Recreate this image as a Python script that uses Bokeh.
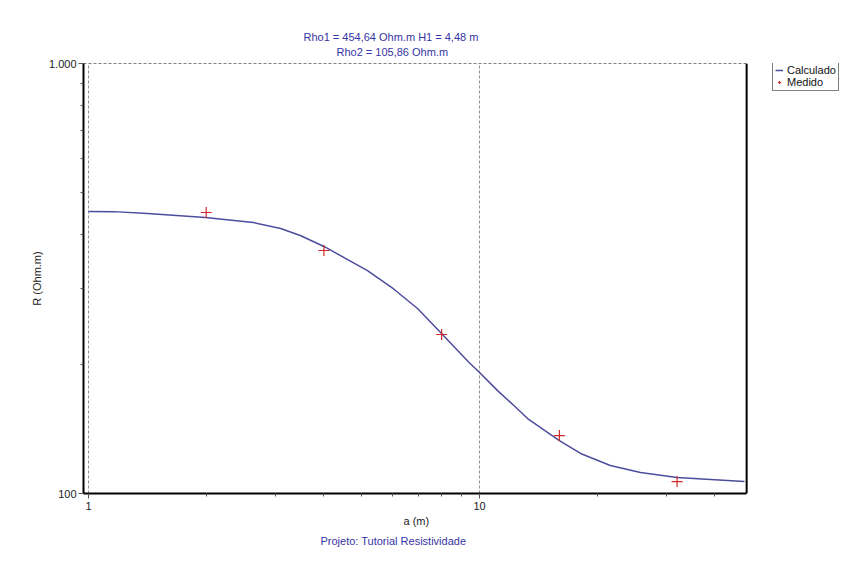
from bokeh.plotting import figure
from bokeh.models import (Title, Legend, LegendItem, FixedTicker, Span, Range1d)
from bokeh.embed import file_html
from bokeh.resources import INLINE

# ---- data ----
a_calc = [1.0, 1.158, 1.416, 1.99, 2.64, 3.10, 3.48, 4.0, 5.17, 6.03, 6.94, 7.95, 8.94,
          9.39, 10.0, 11.12, 12.24, 13.27, 16.0, 18.13, 21.6, 25.8, 32.0, 38.98, 47.6]
r_calc = [452.6, 452.4, 448.0, 438.5, 426.8, 413.3, 398.0, 375.4, 330.0, 299.0, 269.3,
          236.8, 211.6, 202.0, 191.1, 173.5, 160.2, 149.4, 132.8, 123.9, 116.2, 111.9,
          109.0, 107.8, 106.6]
a_med = [2, 4, 8, 16, 32]
r_med = [450.3, 367.4, 234.3, 136.4, 106.6]

x_major = [1, 10]
x_minor = [2, 3, 4, 5, 6, 7, 8, 9, 20, 30, 40]
y_major = [100, 1000]
y_minor = [200, 300, 400, 500, 600, 700, 800, 900]

title1 = "Rho1 =  454,64 Ohm.m H1 =  4,48 m"
title2 = "Rho2 =  105,86 Ohm.m"
x_label = "a (m)"
y_label = "R (Ohm.m)"
footer = "Projeto: Tutorial Resistividade"

# axis window (the frame is widened to the right to host the legend)
X_START, X_END = 0.971, 48.2
X_FRAME_END = 91.5

FONT = "Liberation Sans"
BLUE_TXT = "#3535a5"
CURVE = "#4d4d9e"
RED = "#d02828"

p = figure(x_axis_type="log", y_axis_type="log",
           x_range=Range1d(X_START, X_FRAME_END), y_range=Range1d(100, 1000),
           frame_width=772, frame_height=430,
           min_border_left=83, min_border_top=63, min_border_right=6, min_border_bottom=69,
           output_backend="svg", toolbar_location=None,
           background_fill_color="white", border_fill_color="white")
p.outline_line_color = None
p.title = None


def mk_title(text, offset, standoff, color=BLUE_TXT, size="11px"):
    return Title(text=text, align="left", offset=offset, standoff=standoff,
                 text_font=FONT, text_font_size=size, text_font_style="normal",
                 text_color=color, text_line_height=1.0)


# above: closest first (a thin spacer keeps the subtitle off the frame)
p.add_layout(mk_title(" ", 0, 2, size="1px"), "above")
p.add_layout(mk_title(title2, 253, 2), "above")
p.add_layout(mk_title(title1, 220, 0), "above")
# below: x-axis label (placed as title so it can be centred on the axis window), then footer
p.add_layout(mk_title(x_label, 320, 0, "#222222"), "below")
p.add_layout(mk_title(footer, 237, 12), "below")

# axes
for ax in (p.xaxis[0], p.yaxis[0]):
    ax.axis_line_color = "black"
    ax.axis_line_width = 2
    ax.major_tick_line_color = "#555555"
    ax.minor_tick_line_color = "#555555"
    ax.major_tick_out = 5
    ax.major_tick_in = 0
    ax.minor_tick_out = 3
    ax.minor_tick_in = 0
    ax.major_label_text_font = FONT
    ax.major_label_text_font_size = "11px"
    ax.major_label_text_color = "#222222"
    ax.axis_label_text_font = FONT
    ax.axis_label_text_font_size = "11px"
    ax.axis_label_text_font_style = "normal"
    ax.axis_label_text_color = "#222222"

p.xaxis[0].bounds = (X_START, X_END)
p.xaxis[0].ticker = FixedTicker(ticks=x_major, minor_ticks=x_minor)
p.yaxis[0].ticker = FixedTicker(ticks=y_major, minor_ticks=y_minor)
p.xaxis[0].major_label_overrides = {1: "1", 10: "10"}
p.yaxis[0].major_label_overrides = {100: "100", 1000: "1.000"}
p.yaxis[0].axis_label = y_label
p.xaxis[0].major_label_standoff = 3
p.yaxis[0].major_label_standoff = 2
p.yaxis[0].axis_label_standoff = 3

# grid: vertical dashed lines at the major x ticks; horizontal ones drawn
# only across the axis window
p.xgrid.grid_line_color = "#909090"
p.xgrid.grid_line_dash = "3 2"
p.xgrid.ticker = FixedTicker(ticks=x_major)
p.ygrid.grid_line_color = None
p.segment(x0=[X_START] * len(y_major), x1=[X_END] * len(y_major),
          y0=y_major, y1=y_major, line_color="black", line_dash="3 2", line_width=1)

# right border of the plotting window
p.add_layout(Span(location=X_END, dimension="height", line_color="black", line_width=2))

# data
r1 = p.line(a_calc, r_calc, line_color=CURVE, line_width=1.5)
r2 = p.scatter(a_med, r_med, marker="cross", size=11, line_color=RED, line_width=1.2)

legend = Legend(items=[LegendItem(label="Calculado", renderers=[r1]),
                       LegendItem(label="Medido", renderers=[r2])],
                location=(689, 402), orientation="vertical",
                label_text_font=FONT, label_text_font_size="11px", label_text_color="#111111",
                label_height=12, glyph_height=12, glyph_width=8, label_standoff=4,
                spacing=0, padding=2, margin=0,
                border_line_color="black", border_line_width=1,
                background_fill_color="white", background_fill_alpha=1)
p.add_layout(legend, "center")

open("out.html", "w").write(file_html(p, INLINE))
